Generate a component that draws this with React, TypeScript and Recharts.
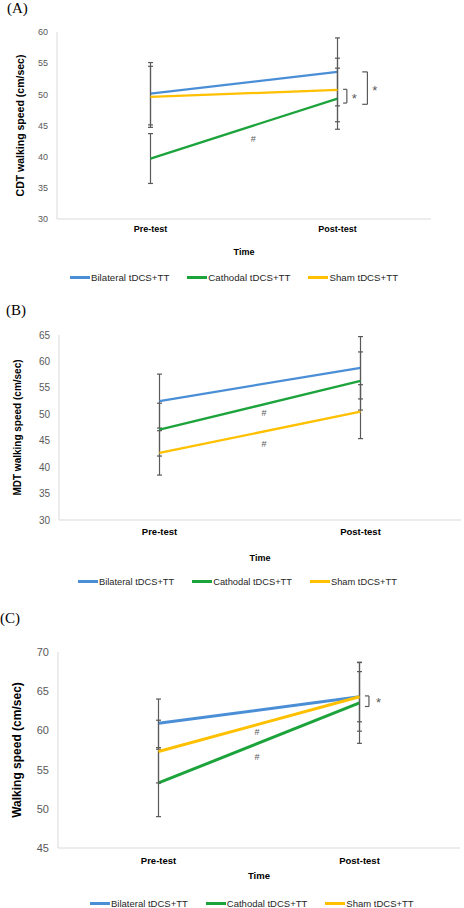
import React from "react";
import {
  LineChart,
  Line,
  XAxis,
  YAxis,
  ErrorBar,
  Legend,
  ReferenceDot,
  ReferenceLine,
} from "recharts";

const categories = ["Pre-test", "Post-test"];
const groupNames = ["Bilateral tDCS+TT", "Cathodal tDCS+TT", "Sham tDCS+TT"];
const groupColors = ["#4A8FD6", "#1DA33C", "#FFC000"];

// (A) CDT walking speed: means and SD per group
const cdtBilateral = [50.1, 53.6];
const cdtBilateralSd = [5.0, 5.45];
const cdtCathodal = [39.7, 49.3];
const cdtCathodalSd = [4.0, 4.9];
const cdtSham = [49.6, 50.7];
const cdtShamSd = [4.9, 5.1];
const cdtTicks = [30, 35, 40, 45, 50, 55, 60];

// (B) MDT walking speed
const mdtBilateral = [52.5, 58.8];
const mdtBilateralSd = [5.1, 5.9];
const mdtCathodal = [47.1, 56.3];
const mdtCathodalSd = [5.0, 5.5];
const mdtSham = [42.7, 50.5];
const mdtShamSd = [4.2, 5.1];
const mdtTicks = [30, 35, 40, 45, 50, 55, 60, 65];

// (C) walking speed
const wsBilateral = [60.9, 64.3];
const wsBilateralSd = [3.1, 4.4];
const wsCathodal = [53.3, 63.5];
const wsCathodalSd = [4.3, 5.15];
const wsSham = [57.3, 64.3];
const wsShamSd = [4.0, 3.2];
const wsTicks = [45, 50, 55, 60, 65, 70];

// significance marks (x in category units: 0.5 = Pre, 1.5 = Post)
const cdtHashes = [{ x: 1.05, y: 42.9 }];
const cdtBrackets = [
  { from: 1.53, to: 1.55, low: 48.6, high: 50.8, starX: 1.59, starY: 49.3 },
  { from: 1.632, to: 1.66, low: 48.4, high: 53.6, starX: 1.7, starY: 50.6 },
];
const mdtHashes = [
  { x: 1.02, y: 50.3 },
  { x: 1.02, y: 44.4 },
];
const wsHashes = [
  { x: 0.99, y: 59.8 },
  { x: 0.99, y: 56.6 },
];
const wsBrackets = [
  { from: 1.527, to: 1.547, low: 63.05, high: 64.4, starX: 1.595, starY: 63.6 },
];

const FONT = '"Liberation Sans", Arial, sans-serif';
const GREY = "#595959";

type PanelProps = {
  letter: string;
  top: number;
  height: number;
  margin: { top: number; right: number; left: number; bottom: number };
  yWidth: number;
  domain: [number, number];
  ticks: number[];
  means: number[][];
  sds: number[][];
  yTitle: string;
  yTitleX: number;
  timeY: number;
  legendY: number;
  legendLeft: number;
  tickFont: number;
  catFont: number;
  titleFont: number;
  timeFont: number;
  legendFont: number;
  catMargin: number;
  lineWidth: number;
  hashes: { x: number; y: number }[];
  brackets: { from: number; to: number; low: number; high: number; starX: number; starY: number }[];
  letterY: number;
  letterX: number;
};

// small text mark centred on a data point
const markLabel = (text: string, size: number) => (lp: any) => {
  const vb = lp.viewBox || {};
  const cx = (vb.x ?? lp.x ?? 0) + (vb.width || 0) / 2;
  const cy = (vb.y ?? lp.y ?? 0) + (vb.height || 0) / 2;
  return (
    <text
      x={cx}
      y={cy}
      textAnchor="middle"
      dominantBaseline="central"
      fontSize={size}
      fill={GREY}
      fontFamily={FONT}
    >
      {text}
    </text>
  );
};

function Panel(p: PanelProps) {
  const rows = categories.map((name, i) => {
    const row: any = { x: i + 0.5, name };
    p.means.forEach((m, s) => {
      row["m" + s] = m[i];
      row["e" + s] = p.sds[s][i];
    });
    return row;
  });

  return (
    <div style={{ position: "absolute", left: 0, top: p.top, width: 464, height: p.height }}>
      <div
        style={{
          position: "absolute",
          left: p.letterX,
          top: p.letterY,
          fontFamily: '"Liberation Serif", "Times New Roman", serif',
          fontSize: 15,
          lineHeight: "16px",
          zIndex: 2,
        }}
      >
        {p.letter}
      </div>
      <LineChart width={464} height={p.height} data={rows} margin={p.margin}>
        <XAxis
          dataKey="x"
          type="number"
          domain={[0, 2]}
          ticks={[0.5, 1.5]}
          interval={0}
          tickFormatter={(v) => categories[Math.floor(v)]}
          height={20}
          axisLine={{ stroke: "#D9D9D9" }}
          tickLine={false}
          tickSize={0}
          tickMargin={p.catMargin}
          tick={{ fontSize: p.catFont, fontWeight: 700, fill: "#000" }}
          label={{
            content: (lp: any) => {
              const vb = lp.viewBox;
              return (
                <text
                  x={vb.x + vb.width / 2}
                  y={p.timeY}
                  textAnchor="middle"
                  dominantBaseline="central"
                  fontSize={p.timeFont}
                  fontWeight={700}
                  fill="#000"
                >
                  Time
                </text>
              );
            },
          }}
        />
        <YAxis
          type="number"
          domain={p.domain}
          ticks={p.ticks}
          interval={0}
          width={p.yWidth}
          axisLine={{ stroke: "#D9D9D9" }}
          tickLine={false}
          tickSize={0}
          tickMargin={9}
          tick={{ fontSize: p.tickFont, fill: GREY }}
          label={{
            content: (lp: any) => {
              const vb = lp.viewBox;
              const cy = vb.y + vb.height / 2;
              return (
                <text
                  x={p.yTitleX}
                  y={cy}
                  transform={`rotate(-90 ${p.yTitleX} ${cy})`}
                  textAnchor="middle"
                  dominantBaseline="central"
                  fontSize={p.titleFont}
                  fontWeight={700}
                  fill="#000"
                >
                  {p.yTitle}
                </text>
              );
            },
          }}
        />
        <Legend
          verticalAlign="middle"
          align="center"
          wrapperStyle={{ top: p.legendY - 7, left: 0, width: 464, height: 14 }}
          content={(lp: any) => (
            <div
              style={{
                display: "flex",
                alignItems: "center",
                paddingLeft: p.legendLeft,
                fontFamily: FONT,
                fontSize: p.legendFont,
                color: "#262626",
                height: 14,
              }}
            >
              {(lp.payload || []).map((item: any) => (
                <span
                  key={item.value}
                  style={{ display: "inline-flex", alignItems: "center", marginRight: 18 }}
                >
                  <span
                    style={{
                      display: "inline-block",
                      width: 20,
                      height: 3,
                      background: item.color,
                      marginRight: 1,
                    }}
                  />
                  <span>{item.value}</span>
                </span>
              ))}
            </div>
          )}
        />
        {groupNames.map((name, s) => (
          <Line
            key={name}
            name={name}
            type="linear"
            dataKey={"m" + s}
            stroke={groupColors[s]}
            strokeWidth={p.lineWidth}
            dot={false}
            activeDot={false}
            isAnimationActive={false}
          >
            <ErrorBar
              dataKey={"e" + s}
              direction="y"
              width={2.5}
              stroke={GREY}
              strokeWidth={1.2}
              isAnimationActive={false}
            />
          </Line>
        ))}
        {p.hashes.map((h, i) => (
          <ReferenceDot
            key={"h" + i}
            x={h.x}
            y={h.y}
            r={0}
            fill="none"
            stroke="none"
            label={{ content: markLabel("#", 9) }}
          />
        ))}
        {p.brackets.flatMap((b, i) => [
          <ReferenceLine
            key={"bt" + i}
            segment={[
              { x: b.from, y: b.high },
              { x: b.to, y: b.high },
            ]}
            stroke={GREY}
            strokeWidth={1.2}
          />,
          <ReferenceLine
            key={"bv" + i}
            segment={[
              { x: b.to, y: b.high },
              { x: b.to, y: b.low },
            ]}
            stroke={GREY}
            strokeWidth={1.2}
          />,
          <ReferenceLine
            key={"bb" + i}
            segment={[
              { x: b.from, y: b.low },
              { x: b.to, y: b.low },
            ]}
            stroke={GREY}
            strokeWidth={1.2}
          />,
          <ReferenceDot
            key={"bs" + i}
            x={b.starX}
            y={b.starY}
            r={0}
            fill="none"
            stroke="none"
            label={{ content: markLabel("*", 13) }}
          />,
        ])}
      </LineChart>
    </div>
  );
}

export default function App() {
  return (
    <div
      style={{
        position: "absolute",
        left: 0,
        top: 0,
        width: 464,
        height: 908,
        background: "#fff",
        fontFamily: FONT,
        overflow: "hidden",
      }}
    >
      <Panel
        letter="(A)"
        letterX={7}
        letterY={0}
        top={0}
        height={300}
        margin={{ top: 32, right: 33, left: 0, bottom: 61 }}
        yWidth={57}
        domain={[30, 60]}
        ticks={cdtTicks}
        means={[cdtBilateral, cdtCathodal, cdtSham]}
        sds={[cdtBilateralSd, cdtCathodalSd, cdtShamSd]}
        yTitle="CDT walking speed (cm/sec)"
        yTitleX={20}
        timeY={252}
        legendY={277}
        legendLeft={70}
        tickFont={9}
        catFont={9}
        titleFont={10.5}
        timeFont={9}
        legendFont={9.7}
        catMargin={7}
        lineWidth={2.3}
        hashes={cdtHashes}
        brackets={cdtBrackets}
      />
      <Panel
        letter="(B)"
        letterX={6}
        letterY={2}
        top={300}
        height={300}
        margin={{ top: 35, right: 3, left: 0, bottom: 60 }}
        yWidth={59}
        domain={[30, 65]}
        ticks={mdtTicks}
        means={[mdtBilateral, mdtCathodal, mdtSham]}
        sds={[mdtBilateralSd, mdtCathodalSd, mdtShamSd]}
        yTitle="MDT walking speed (cm/sec)"
        yTitleX={17.5}
        timeY={258}
        legendY={281.7}
        legendLeft={78}
        tickFont={10}
        catFont={9.5}
        titleFont={10}
        timeFont={9}
        legendFont={9.3}
        catMargin={8}
        lineWidth={2.3}
        hashes={mdtHashes}
        brackets={[]}
      />
      <Panel
        letter="(C)"
        letterX={0}
        letterY={10}
        top={600}
        height={308}
        margin={{ top: 52, right: 4, left: 0, bottom: 40 }}
        yWidth={58}
        domain={[45, 70]}
        ticks={wsTicks}
        means={[wsBilateral, wsCathodal, wsSham]}
        sds={[wsBilateralSd, wsCathodalSd, wsShamSd]}
        yTitle="Walking speed (cm/sec)"
        yTitleX={16.5}
        timeY={275}
        legendY={303}
        legendLeft={90}
        tickFont={11}
        catFont={9.5}
        titleFont={12}
        timeFont={9.5}
        legendFont={9.5}
        catMargin={9}
        lineWidth={3}
        hashes={wsHashes}
        brackets={wsBrackets}
      />
    </div>
  );
}
